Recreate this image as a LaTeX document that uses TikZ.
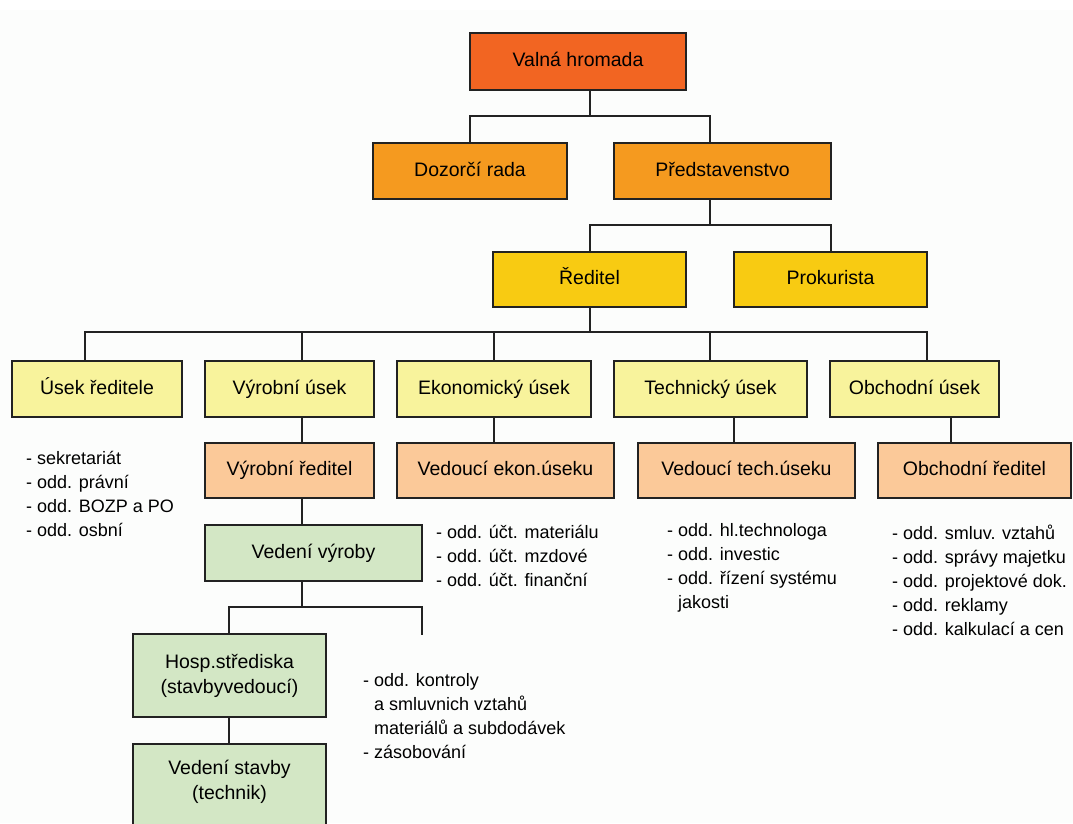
\documentclass[tikz,border=0pt]{standalone}
\usepackage{fontspec}
\setmainfont{Liberation Sans}
\definecolor{cA}{HTML}{F26522}
\definecolor{cB}{HTML}{F59A1F}
\definecolor{cC}{HTML}{F8CB12}
\definecolor{cD}{HTML}{F8F39C}
\definecolor{cE}{HTML}{FBC999}
\definecolor{cF}{HTML}{D3E7C5}
\definecolor{bg}{HTML}{FCFDFC}
\definecolor{ln}{HTML}{222222}
\begin{document}
\begin{tikzpicture}[x=1pt,y=-1pt,
  box/.style={draw=ln, line width=1.6pt, inner sep=0pt, align=center,
    font=\fontsize{19.5}{25}\selectfont},
  one/.style={text height=14pt, text depth=4pt},
  conn/.style={draw=ln, line width=1.5pt},
  lst/.style={align=left, inner sep=0pt, anchor=west,
    font=\fontsize{18}{24}\selectfont}]
\useasboundingbox (0,0) rectangle (1073,823);
\fill[bg] (0,10) rectangle (1073,823);
% level 0-2
\node[box, one, fill=cA, minimum width=216, minimum height=57] (vh) at (578,61.5) {Valná hromada};
\node[box, one, fill=cB, minimum width=194, minimum height=56] (dr) at (470,171) {Dozorčí rada};
\node[box, one, fill=cB, minimum width=217, minimum height=56] (pr) at (722.5,171) {Představenstvo};
\node[box, one, fill=cC, minimum width=193, minimum height=55] (re) at (589.5,279.5) {Ředitel};
\node[box, one, fill=cC, minimum width=193, minimum height=55] (pk) at (830.5,279.5) {Prokurista};
% level 3
\node[box, one, fill=cD, minimum width=170, minimum height=56] (u1) at (97,389) {Úsek ředitele};
\node[box, one, fill=cD, minimum width=169, minimum height=56] (u2) at (289.5,389) {Výrobní úsek};
\node[box, one, fill=cD, minimum width=194, minimum height=56] (u3) at (494,389) {Ekonomický úsek};
\node[box, one, fill=cD, minimum width=193, minimum height=56] (u4) at (710.5,389) {Technický úsek};
\node[box, one, fill=cD, minimum width=169, minimum height=56] (u5) at (914.5,389) {Obchodní úsek};
% level 4
\node[box, one, fill=cE, minimum width=169, minimum height=55] (v2) at (289.5,470.5) {Výrobní ředitel};
\node[box, one, fill=cE, minimum width=217, minimum height=55] (v3) at (505.5,470.5) {Vedoucí ekon.úseku};
\node[box, one, fill=cE, minimum width=217, minimum height=55] (v4) at (746.5,470.5) {Vedoucí tech.úseku};
\node[box, one, fill=cE, minimum width=193, minimum height=55] (v5) at (974.5,470.5) {Obchodní ředitel};
% green
\node[box, one, fill=cF, minimum width=217, minimum height=56] (g1) at (313.5,553) {Vedení výroby};
\node[box, fill=cF, minimum width=193, minimum height=83] (g2) at (229.5,675.5) {Hosp.střediska\\(stavbyvedoucí)};
\node[box, fill=cF, minimum width=193, minimum height=110] (g3) at (229.5,799) {};
\node[box, draw=none, inner sep=0pt] (g3t) at (229.5,782) {Vedení stavby\\(technik)};
% coordinates for connector x positions
\coordinate (x85) at (85,0);
\coordinate (x229) at (229,0);
\coordinate (x302) at (302,0);
\coordinate (x470) at (470,0);
\coordinate (x494) at (494,0);
\coordinate (x590) at (590,0);
\coordinate (x710) at (710,0);
\coordinate (x734) at (734,0);
\coordinate (x831) at (831,0);
\coordinate (x927) at (927,0);
\coordinate (x951) at (951,0);
\coordinate (b1) at (590,116);
\coordinate (b2) at (710,225);
\coordinate (b3) at (590,332);
\coordinate (b4) at (302,607);
\coordinate (dang) at (422,635);
% connectors
\draw[conn] (vh.south -| x590) -- (b1);
\draw[conn] (dr.north -| x470) |- (b1) -| (pr.north -| x710);
\draw[conn] (pr.south -| x710) -- (b2);
\draw[conn] (re.north -| x590) |- (b2) -| (pk.north -| x831);
\draw[conn] (re.south -| x590) -- (b3);
\draw[conn] (u1.north -| x85) |- (b3) -| (u5.north -| x927);
\draw[conn] (u2.north -| x302) -- (b3 -| x302);
\draw[conn] (u3.north -| x494) -- (b3 -| x494);
\draw[conn] (u4.north -| x710) -- (b3 -| x710);
\draw[conn] (u2.south -| x302) -- (v2.north -| x302);
\draw[conn] (u3.south -| x494) -- (v3.north -| x494);
\draw[conn] (u4.south -| x734) -- (v4.north -| x734);
\draw[conn] (u5.south -| x951) -- (v5.north -| x951);
\draw[conn] (v2.south -| x302) -- (g1.north -| x302);
\draw[conn] (g1.south -| x302) -- (b4);
\draw[conn] (g2.north -| x229) |- (b4) -| (dang);
\draw[conn] (g2.south -| x229) -- (g3.north -| x229);
% lists
\node[lst] (l1) at (26,494) {- sekretariát\\- odd. právní\\- odd. BOZP a PO\\- odd. osbní};
\node[lst] (l2) at (436,556) {- odd. účt. materiálu\\- odd. účt. mzdové\\- odd. účt. finanční};
\node[lst] (l3) at (667,568) {- odd. hl.technologa\\- odd. investic\\- odd. řízení systému\\\phantom{- }jakosti};
\node[lst] (l4) at (892,580) {- odd. smluv. vztahů\\- odd. správy majetku\\- odd. projektové dok.\\- odd. reklamy\\- odd. kalkulací a cen};
\node[lst] (l5) at (363,716) {- odd. kontroly\\\phantom{- }a smluvnich vztahů\\\phantom{- }materiálů a subdodávek\\- zásobování};
\end{tikzpicture}
\end{document}
